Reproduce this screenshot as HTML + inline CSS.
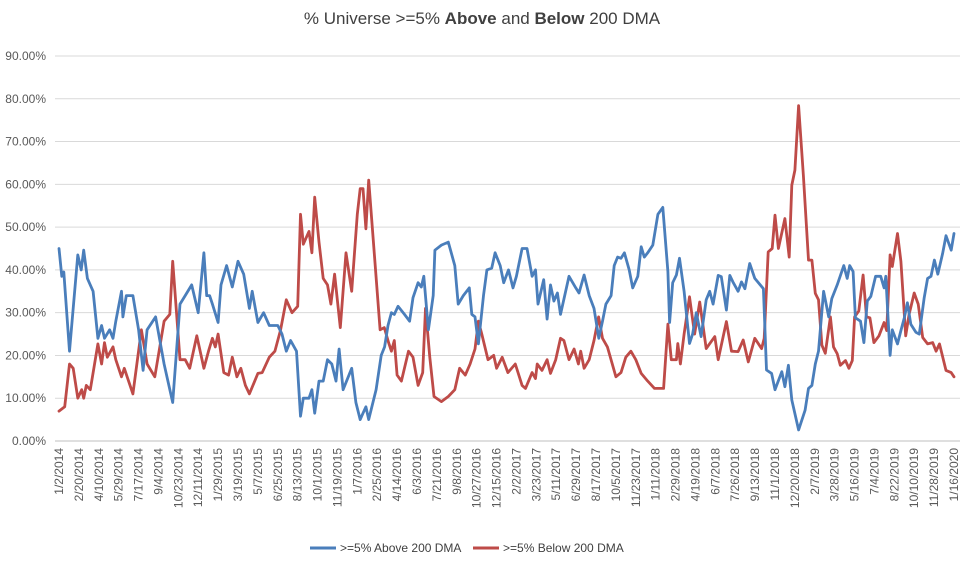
<!DOCTYPE html>
<html><head><meta charset="utf-8"><style>
body{margin:0;background:#fff;}
svg{display:block;font-family:"Liberation Sans",sans-serif;}
</style></head><body>
<svg id="chart" width="964" height="567" xmlns="http://www.w3.org/2000/svg">
<text x="482" y="24" text-anchor="middle" font-size="17" fill="#404040">% Universe &gt;=5% <tspan font-weight="bold">Above</tspan> and <tspan font-weight="bold">Below</tspan> 200 DMA</text>
<g id="grid"></g><g id="yticks"></g><g id="xticks"></g><g id="series"></g>
<g>
<line x1="310" y1="548" x2="336" y2="548" stroke="#4A7EBB" stroke-width="3"/>
<text x="340" y="552" font-size="12" fill="#404040">&gt;=5% Above 200 DMA</text>
<line x1="473" y1="548" x2="499" y2="548" stroke="#BE4B48" stroke-width="3"/>
<text x="503" y="552" font-size="12" fill="#404040">&gt;=5% Below 200 DMA</text>
</g>
</svg>
<script>
const tickLabels=["1/2/2014","2/20/2014","4/10/2014","5/29/2014","7/17/2014","9/4/2014","10/23/2014","12/11/2014","1/29/2015","3/19/2015","5/7/2015","6/25/2015","8/13/2015","10/1/2015","11/19/2015","1/7/2016","2/25/2016","4/14/2016","6/3/2016","7/21/2016","9/8/2016","10/27/2016","12/15/2016","2/2/2017","3/23/2017","5/11/2017","6/29/2017","8/17/2017","10/5/2017","11/23/2017","1/11/2018","2/29/2018","4/19/2018","6/7/2018","7/26/2018","9/13/2018","11/1/2018","12/20/2018","2/7/2019","3/28/2019","5/16/2019","7/4/2019","8/22/2019","10/10/2019","11/28/2019","1/16/2020"];
const yTicks=[0,10,20,30,40,50,60,70,80,90];
const aboveWeek=[0,1,1.7,3.7,6.6,7.8,8.7,10,12,13.7,15,16,17.8,19,20,22,22.5,23.7,26,28,29.6,31,34,37,40,42.6,44.4,46.7,49,51,52,53,54,56,57,59,61,63,65,67,68,70,72,74,77,78.5,80,81.5,83.6,85,86,88,89,90,91.5,93,94.5,96,97.5,98.6,100,103,104.5,106,107,108,109,111.6,113.4,114.6,115.8,117,118,119.3,121.6,123.4,124.6,126.4,127.5,128.4,130,131.7,132.3,134.6,137,139.3,140.5,142.3,144.4,145.3,146.4,147.6,149.4,150.6,152.3,153.5,155.3,156.5,158.2,159.8,161,163,164.7,166.5,167.7,168.6,170.6,171.8,173,174.2,175.4,176.5,179.5,181.9,183,184.8,186.6,188.3,190,191.3,192.5,194.3,195.4,196.6,197.8,199,200.7,201.9,203.7,204.9,206,207.2,209,210.8,212.5,214.3,214.9,216,217.3,218.4,220,221.9,223,224.3,226,227.8,229,230.2,232,233.1,234.9,236.1,237.2,239,240.2,241.4,243.1,244.9,247.9,249,250.8,252,254.4,255.5,256.7,257.9,260.3,262.6,263.8,265,266.2,267.3,269.1,270.9,272,273.9,276.2,277.4,278.3,279.5,280.3,282.1,283.3,284.5,285.7,287.4,289.2,290.4,291,292.5,293.3,295.1,296.3,297.5,298.6,299.8,301.6,302.8,304.5,305.7,306.9,308.1,309.3,311,312.2,314,315];
const aboveVals=[45,38.5,39.5,21,43.5,40,44.6,38,35,24,27,24,26,24,28,35,29,34,34,26,16.5,26,29,18,9,32,34,36.5,30,44,34,34,32,27.7,36.5,41,36,42,39,31,35,27.7,30,27,27,25,21,23.5,21,5.8,10,10,12,6.5,14,14,19,18,14,21.5,12,17,9,5,6.5,8,5,12,20,22,27,30,29.6,31.5,29.6,28,33.5,37,36,38.5,26,34,44.6,45.8,46.5,41,32,34,35.8,29.6,29,22.7,34,40,40.4,44,41,37,40,35.8,38.5,45,45,38.5,40,32,37.7,28.5,36.5,32.7,34.6,29.6,38.5,35.8,34.6,38.8,34,31,24,28,32,34,41,43,42.7,44,40,35.8,38.5,45.4,43,44,45.8,53,54.6,39.6,27.7,37,38.8,42.7,35,22.8,25,30,24.4,33,35,32,38.7,38.4,30.6,38.7,37.2,35,37.2,35.6,41.5,38,35.6,16.6,15.8,12,16.2,12.7,17.7,9.6,2.6,7.2,12.3,13,18,21,35,29,33.3,36.5,41,38,41,39.6,28.8,28,23,32.7,33.8,38.5,38.5,35.8,38.5,20,26,22.7,25.8,28.8,32.3,27.3,25.4,25,33.5,38,38.5,42.3,39,43.8,48,44.6,48.5];
const belowWeek=[0,2,3.7,5,6.6,8,8.7,9.6,11,13.7,15,16,17,19,20,22,23,26,29,31,33.7,37,39,40,42.6,44.4,46,48.5,51,52.6,54,55,56,58,59.7,61,62.6,64,65.6,67,70,71.5,74,76,78,80,82,84,85,86,88,89,90,91.5,93,94.5,95.7,97,99,101,103,105,106,107,108,109,111,113,114.5,116,117,118,119,120.5,123,124.6,126.4,128,129,130.5,132,134.6,137,139.3,141,143,144.7,146.4,147.6,148.8,151,153,154,156,158,160.6,163,164.2,166.5,167.7,168.3,170,171.8,173,174.8,176.5,177.7,179.5,181.3,182.8,183.6,184.8,186.6,188.3,189.9,191.3,193,196,197.8,199.5,201.3,203,204.9,207.2,209.6,212.8,214.3,215.5,217.3,217.8,218.7,220,221.9,223.7,225.5,227.8,230.8,232,234.9,236.7,239,240.8,242.6,244.9,247.3,248.2,249.6,251,252,253.2,255.5,257,257.9,259,260.3,262,263.8,265,266.2,267.3,268.5,269.7,271.5,272.6,273.9,275,276.8,278,279.2,280,281.5,283,284.2,285.4,286.8,288.6,290.4,291.3,292.5,293.3,295.1,296.3,298,299.2,301,302.4,304,305.7,307.5,308.7,309.9,312.2,314,315];
const belowVals=[7,8,18,17,10,12,10,13,12,22.7,18,23,19.6,22,19,15,17,11,26,18,15,28,29.6,42,19,19,17,24.6,17,21,24,22,25,16,15.4,19.6,15,17,13,11,15.8,16,19.6,21,26,33,30,31.5,53,46,49,44,57,46.5,38,36.5,32,39,26.5,44,35,53,59,59,49.6,61,43.5,26,26.5,23,21,23.5,15.4,14,21,19.6,13,16,31,19.6,10.4,9.2,10.4,12,17,15.4,18,21.5,28,25,19,20,17,19.6,16,18,13,12.3,16,14.6,18,16.5,19,15.8,19,24,23.5,19,21.5,18,21,17,19,23.5,29,24,22,15,16,19.6,21,19,15.8,14,12.3,12.3,27.3,19,19,22.8,18,25,33.7,25,32.5,21.6,24.4,19,27.9,21,20.9,23.6,18.5,24,21.6,24,44.2,45,52.8,45,52,43,59.8,63.3,78.4,62,42.3,42.3,34.5,33,22.4,20.5,29,22,20.4,17.7,18.8,17,18.8,29,30.4,38.8,29,28.8,23,24.6,27.7,25.8,43.5,40.8,48.5,42,24.6,29.6,34.6,32,24.2,22.7,23,21,22.7,16.5,16,15];

const NS="http://www.w3.org/2000/svg";
const X0=59,X1=954,Y0=441,Y90=56,WEEKS=315;
function xs(w){return X0+(X1-X0)*w/WEEKS;}
function ys(v){return Y0-(Y0-Y90)*v/90;}
function mk(tag,attrs,parent){const e=document.createElementNS(NS,tag);for(const k in attrs)e.setAttribute(k,attrs[k]);parent.appendChild(e);return e;}
const grid=document.getElementById('grid'),yt=document.getElementById('yticks'),xt=document.getElementById('xticks'),ser=document.getElementById('series');
yTicks.forEach(v=>{
  const l=mk('line',{x1:55,x2:960,y1:ys(v),y2:ys(v),stroke:v===0?'#bfbfbf':'#d9d9d9','stroke-width':1},grid);
  
  
  const t=mk('text',{x:46,y:ys(v)+4,'text-anchor':'end','font-size':12,fill:'#595959'},yt);
  t.textContent=v.toFixed(2)+'%';
  
  
});
tickLabels.forEach((s,i)=>{
  const x=xs(i*7)+4;
  const t=mk('text',{x:x,y:448,'text-anchor':'end','font-size':12,fill:'#595959',transform:'rotate(-90 '+x+' 448)'},xt);
  t.textContent=s;
  
  
});
function line(weeks,vals,color,name){
  const d=weeks.map((w,i)=>(i?'L':'M')+xs(w).toFixed(1)+','+ys(vals[i]).toFixed(1)).join('');
  const p=mk('path',{d:d,fill:'none',stroke:color,'stroke-width':2.8,'stroke-linejoin':'round','stroke-linecap':'round'},ser);
  
  
}
line(belowWeek,belowVals,'#BE4B48','series-below-200dma');
line(aboveWeek,aboveVals,'#4A7EBB','series-above-200dma');
</script>
</body></html>
